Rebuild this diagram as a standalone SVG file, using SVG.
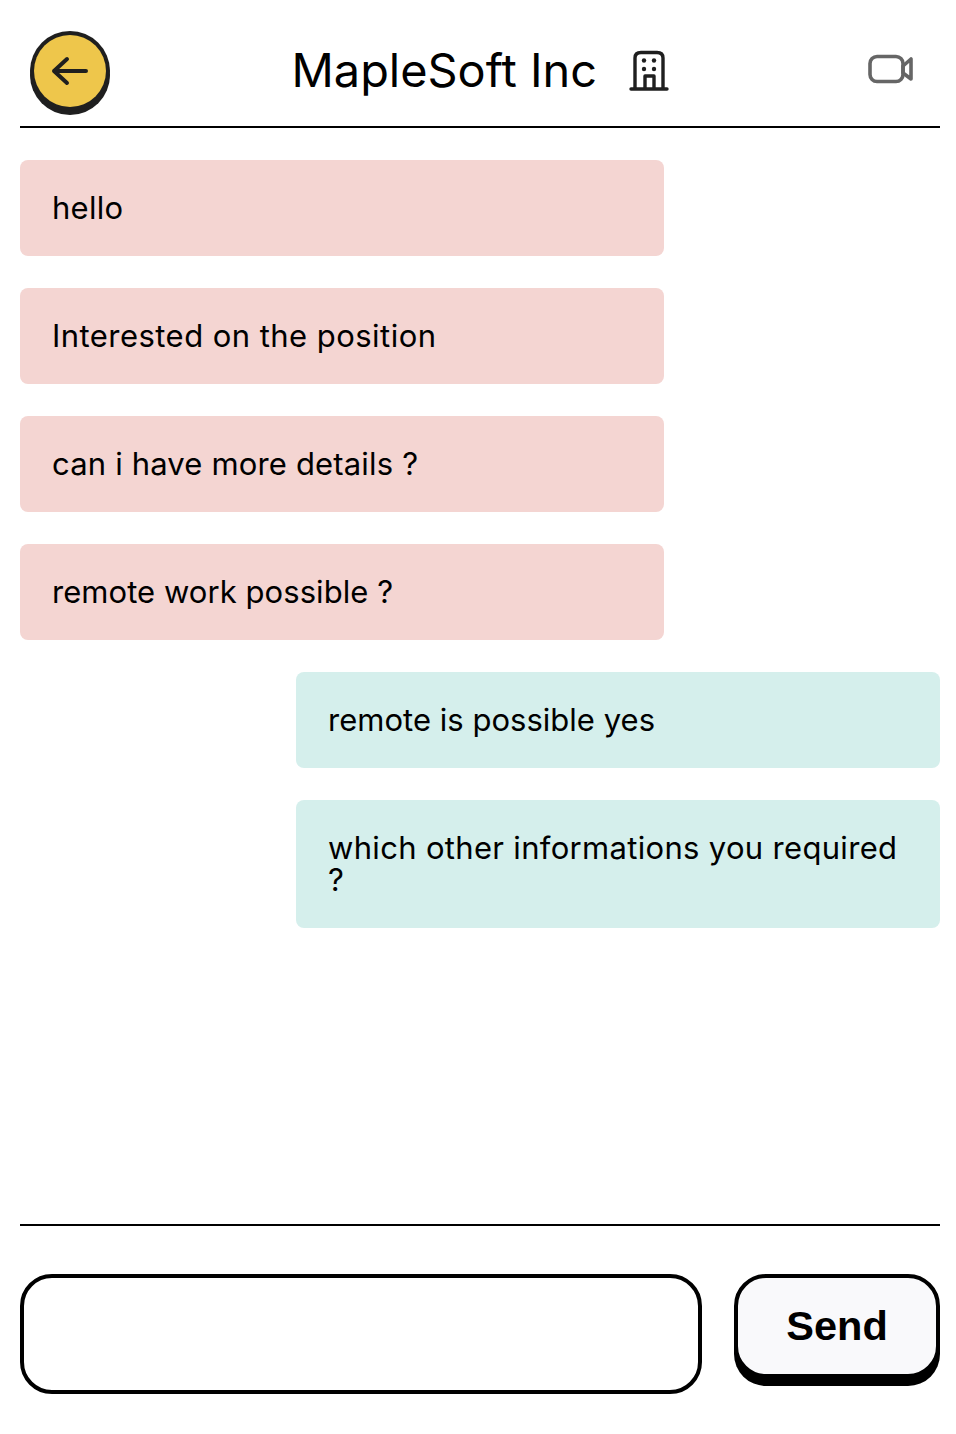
<svg xmlns="http://www.w3.org/2000/svg" width="956" height="1434" viewBox="0 0 956 1434">
<style>
text{font-family:"Inter","Noto Sans",sans-serif;fill:#000}
.m{font-size:31px}
.p{fill:#f4d5d2}
.t{fill:#d5efec}
.rule{fill:#000}
.ic{fill:none;stroke:#1f1f1f;stroke-linecap:round;stroke-linejoin:round}
</style>
<rect width="956" height="1434" fill="#fff"/>
<g id="back-button">
<circle cx="70" cy="75" r="40" fill="#1f1f1f"/>
<circle cx="70" cy="71" r="40" fill="#1f1f1f"/>
<circle cx="70" cy="71" r="36" fill="#eec64b"/>
<path class="ic" stroke-width="4" d="M86 71H54M67 59L54 71L67 83"/>
</g>
<g id="title"><text x="291.500" y="87" font-size="46" textLength="305.500" lengthAdjust="spacingAndGlyphs">MapleSoft Inc</text></g>
<g id="building-icon">
<path class="ic" stroke-width="3.400" d="M631 89H667M635 89V58Q635 52.500 641 52.500H657Q663 52.500 663 58V89M645 89V76H654V89"/>
<circle cx="644" cy="60.500" r="2.200" fill="#1f1f1f"/><circle cx="654" cy="60.500" r="2.200" fill="#1f1f1f"/>
<circle cx="644" cy="69" r="2.200" fill="#1f1f1f"/><circle cx="654" cy="69" r="2.200" fill="#1f1f1f"/>
</g>
<g id="video-icon" fill="none" stroke="#666" stroke-width="3.600" stroke-linejoin="round">
<rect x="870" y="56.500" width="33" height="25" rx="7"/>
<path d="M903 66L911 59V79L903 73Z"/>
</g>
<rect id="header-rule" class="rule" x="20" y="126" width="920" height="2"/>
<g id="msg-1"><rect class="p" x="20" y="160" width="644" height="96" rx="8"/><text class="m" x="52" y="219" textLength="71">hello</text></g>
<g id="msg-2"><rect class="p" x="20" y="288" width="644" height="96" rx="8"/><text class="m" x="52" y="347" textLength="384">Interested on the position</text></g>
<g id="msg-3"><rect class="p" x="20" y="416" width="644" height="96" rx="8"/><text class="m" x="52" y="475" textLength="366">can i have more details ?</text></g>
<g id="msg-4"><rect class="p" x="20" y="544" width="644" height="96" rx="8"/><text class="m" x="52" y="603" textLength="341">remote work possible ?</text></g>
<g id="msg-5"><rect class="t" x="296" y="672" width="644" height="96" rx="8"/><text class="m" x="328" y="731" textLength="327">remote is possible yes</text></g>
<g id="msg-6"><rect class="t" x="296" y="800" width="644" height="128" rx="8"/><text class="m" x="328" y="859" textLength="569">which other informations you required</text><text class="m" x="328" y="891" textLength="17">?</text></g>
<rect id="footer-rule" class="rule" x="20" y="1224" width="920" height="2"/>
<g id="input"><rect x="22" y="1276" width="678" height="116" rx="30" fill="#fff" stroke="#000" stroke-width="4"/></g>
<g id="send-button">
<rect x="734" y="1282" width="206" height="104" rx="32" fill="#000"/>
<rect x="736" y="1276" width="202" height="100" rx="30" fill="#f9f9fb" stroke="#000" stroke-width="4"/>
<text x="837" y="1340" font-size="41.500" font-weight="700" text-anchor="middle" style="font-family:'Liberation Sans',sans-serif">Send</text>
</g>
</svg>
